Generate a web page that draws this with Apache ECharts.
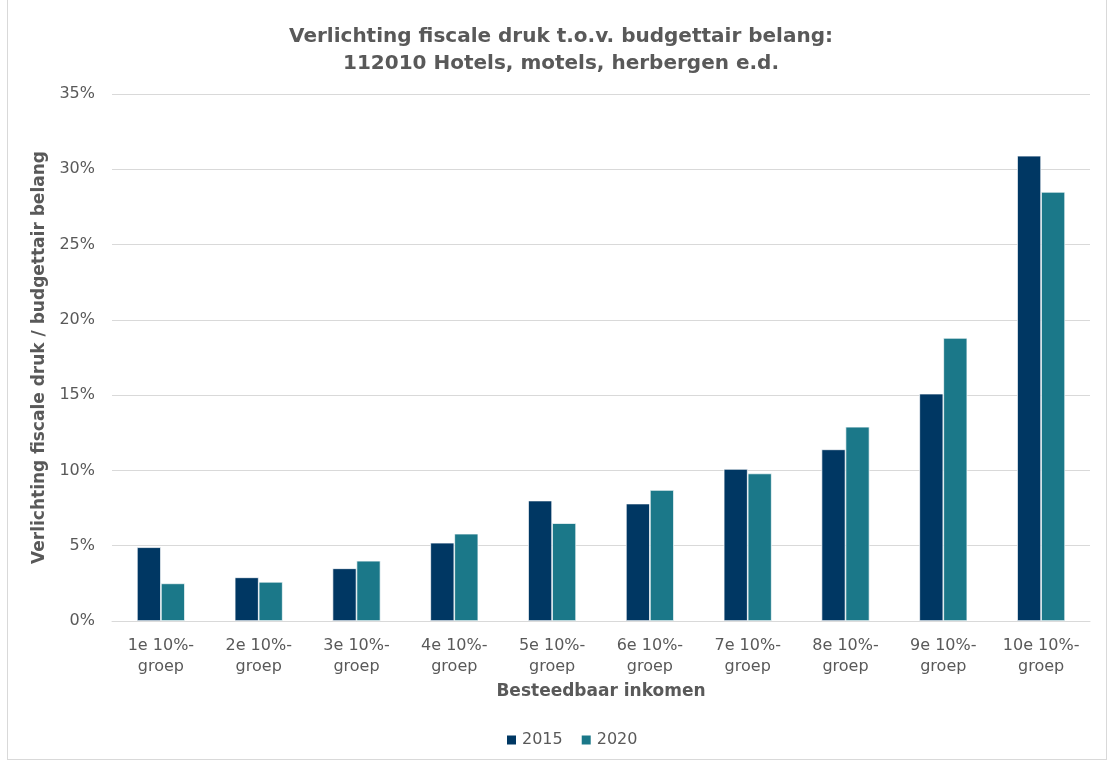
<!DOCTYPE html>
<html>
<head>
<meta charset="utf-8">
<script src="https://cdn.jsdelivr.net/npm/echarts@6/dist/echarts.min.js"></script>
<style>
html,body{margin:0;padding:0;background:#fff;}
#frame{position:absolute;left:7px;top:0;width:1100px;height:760px;border:1px solid #d9d9d9;border-top:none;box-sizing:border-box;}
#chart{position:absolute;left:0;top:0;width:1110px;height:762px;}
</style>
</head>
<body>
<div id="frame"></div>
<div id="chart"></div>
<script>
const categories = ['1e 10%-\ngroep','2e 10%-\ngroep','3e 10%-\ngroep','4e 10%-\ngroep','5e 10%-\ngroep','6e 10%-\ngroep','7e 10%-\ngroep','8e 10%-\ngroep','9e 10%-\ngroep','10e 10%-\ngroep'];
const values2015 = [4.9, 2.9, 3.5, 5.2, 8.0, 7.8, 10.1, 11.4, 15.1, 30.9];
const values2020 = [2.5, 2.6, 4.0, 5.8, 6.5, 8.7, 9.8, 12.9, 18.8, 28.5];
const seriesNames = ['2015', '2020'];

const chart = echarts.init(document.getElementById('chart'), null, {renderer:'canvas'});
const font = 'Verdana, "DejaVu Sans", sans-serif';
const txt = '#595959';
chart.setOption({
  animation:false,
  textStyle:{fontFamily:font},
  title:{
    text:'Verlichting fiscale druk t.o.v. budgettair belang:\n112010 Hotels, motels, herbergen e.d.',
    left:556, top:18, textAlign:'center',
    textStyle:{fontFamily:font,fontSize:20,fontWeight:'bold',color:txt,lineHeight:27}
  },
  legend:{
    data:seriesNames, bottom:9, left:500, itemWidth:11, itemHeight:11, itemGap:17,
    icon:'rect',
    textStyle:{fontFamily:font,fontSize:16,color:txt}
  },
  grid:{left:112,right:20,top:94,bottom:141,containLabel:false},
  xAxis:{
    type:'category', data:categories,
    name:'Besteedbaar inkomen', nameLocation:'middle', nameGap:62,
    nameTextStyle:{fontFamily:font,fontSize:17,fontWeight:'bold',color:txt},
    axisLine:{show:true,lineStyle:{color:'#d9d9d9'}},
    axisTick:{show:false},
    axisLabel:{fontFamily:font,fontSize:16,color:txt,lineHeight:21,margin:14,interval:0}
  },
  yAxis:{
    type:'value', min:0, max:35, interval:5,
    name:'Verlichting fiscale druk / budgettair belang', nameLocation:'middle', nameGap:58,
    nameTextStyle:{fontFamily:font,fontSize:17,fontWeight:'bold',color:txt},
    axisLine:{show:false}, axisTick:{show:false},
    axisLabel:{formatter:'{value}%',fontFamily:font,fontSize:16,color:txt,margin:17},
    splitLine:{lineStyle:{color:'#d9d9d9'}}
  },
  series:[
    {name:seriesNames[0],type:'bar',data:values2015,barWidth:24,barGap:'0%',
     itemStyle:{color:'#003763',borderColor:'#ffffff',borderWidth:0.7}},
    {name:seriesNames[1],type:'bar',data:values2020,barWidth:24,
     itemStyle:{color:'#1b7889',borderColor:'#ffffff',borderWidth:0.7}}
  ]
});
</script>
</body>
</html>
